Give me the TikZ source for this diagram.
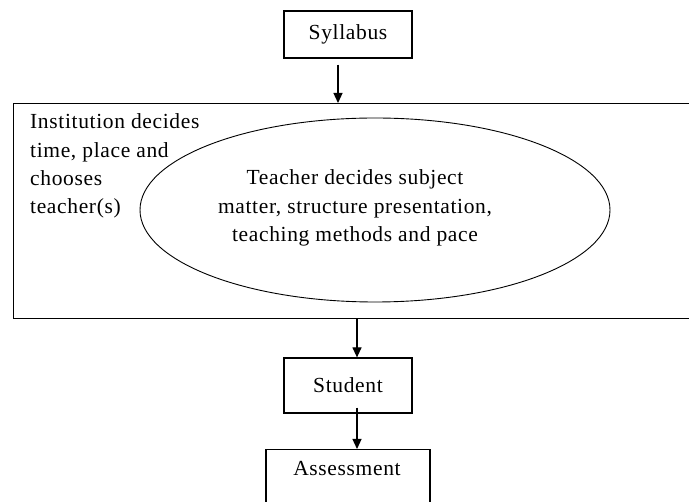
\documentclass[tikz,border=0pt]{standalone}
\usepackage{fontspec}
\setmainfont{Liberation Serif}[LetterSpace=3]
\usetikzlibrary{shapes.geometric,arrows.meta}
\begin{document}
\begin{tikzpicture}[x=1pt,y=-1pt,
  txt/.style={font=\fontsize{21.5}{28.3}\selectfont},
  boxnode/.style={draw,line width=1.2pt,inner sep=0pt,txt},
  arr/.style={line width=1.2pt,-{Triangle[width=9pt,length=10pt]}}]
\useasboundingbox (0,0) rectangle (689,502);
\fill[white] (0,0) rectangle (689,502);
\clip (0,0) rectangle (689,502);
% nodes
\node[boxnode,minimum width=128pt,minimum height=47pt] (syl) at (348,34.5) {Syllabus};
\node[draw,line width=1.2pt,inner sep=0pt,minimum width=690pt,minimum height=215pt,anchor=north west] (inst) at (13,103) {};
\node[txt,align=left,anchor=west,inner sep=0pt] (insttxt) at (30,166) {Institution decides\\time, place and\\chooses\\teacher(s)};
\node[ellipse,draw,line width=0.9pt,minimum width=470pt,minimum height=184pt,inner sep=0pt] (ell) at (375,210) {};
\node[txt,align=center,inner sep=0pt] (teach) at (355,208) {Teacher decides subject\\matter, structure presentation,\\teaching methods and pace};
\node[boxnode,minimum width=128pt,minimum height=55pt] (stu) at (348,385.5) {Student};
\node[boxnode,minimum width=164pt,minimum height=58pt,anchor=north] (ass) at (348,449) {};
\node[txt,inner sep=0pt] (asstxt) at (347,469) {Assessment};
% connectors
\draw[arr] ([yshift=-6pt]syl.south -| 338,0) -- (inst.north -| 338,0);
\draw[arr] (inst.south -| 357,0) -- (stu.north -| 357,0);
\draw[arr] ([yshift=6pt]stu.south -| 357,0) -- (ass.north -| 357,0);
\end{tikzpicture}
\end{document}
